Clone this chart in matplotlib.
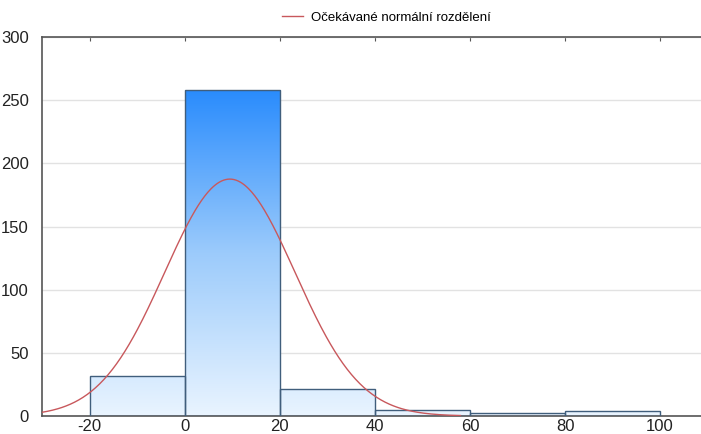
import numpy as np
from matplotlib import pyplot as plt
from matplotlib.colors import LinearSegmentedColormap

# histogram data
bin_edges = [-20, 0, 20, 40, 60, 80, 100]
counts = [32, 258, 21, 5, 2, 4]

# expected normal curve parameters (estimated from the red line)
curve_mean = 9.5
curve_sd = 13.7
curve_start = -30
curve_end = 58

x_ticks = [-20, 0, 20, 40, 60, 80, 100]
y_ticks = [0, 50, 100, 150, 200, 250, 300]
legend_label = 'Očekávané normální rozdělení'

plt.rcParams['font.family'] = ['Liberation Sans', 'DejaVu Sans']
plt.rcParams['axes.unicode_minus'] = False

fig = plt.figure(figsize=(7.01, 4.34), dpi=100)
ax = fig.add_axes([0.06, 0.0415, 0.94, 0.8732])

cmap = LinearSegmentedColormap.from_list('blues', ['#e9f4ff', '#9ccbfb', '#2a8cfd'])
grad = np.linspace(0, 1, 256).reshape(-1, 1)
top = max(counts)

bars = ax.bar(bin_edges[:-1], counts, width=np.diff(bin_edges), align='edge',
              facecolor='none', edgecolor='#405e7c', linewidth=1.0, zorder=3)
for b in bars:
    im = ax.imshow(grad, extent=[b.get_x(), b.get_x() + b.get_width(), 0, top],
                   aspect='auto', cmap=cmap, origin='lower', zorder=2)
    im.set_clip_path(b)

total = sum(counts)
width = bin_edges[1] - bin_edges[0]
xs = np.linspace(curve_start, curve_end, 400)
ys = total * width / (np.sqrt(2 * np.pi) * curve_sd) * np.exp(-0.5 * ((xs - curve_mean) / curve_sd) ** 2)
ax.plot(xs, ys, color='#c8585c', linewidth=1.0, zorder=4, label=legend_label)

ax.set_xlim(-30, 108.6)
ax.set_ylim(0, 300)
ax.set_xticks(x_ticks)
ax.set_yticks(y_ticks)
ax.grid(axis='y', color='#e2e2e2', linewidth=1.0, zorder=0)
ax.set_axisbelow(True)

for s in ['left', 'bottom', 'top']:
    ax.spines[s].set_color('#555555')
    ax.spines[s].set_linewidth(1.2)
ax.spines['right'].set_visible(False)

ax.tick_params(axis='x', which='both', bottom=False, top=True, direction='in',
               length=3, color='#555555', labelsize=12, pad=2, labelcolor='#222222')
ax.tick_params(axis='y', left=False, labelsize=12, pad=6, labelcolor='#222222')

fig.legend(loc='center', bbox_to_anchor=(386 / 701, 1 - 18 / 434), frameon=False,
           fontsize=9.5, handlelength=1.6, handletextpad=0.6)

fig.savefig('out.png', dpi=100)
